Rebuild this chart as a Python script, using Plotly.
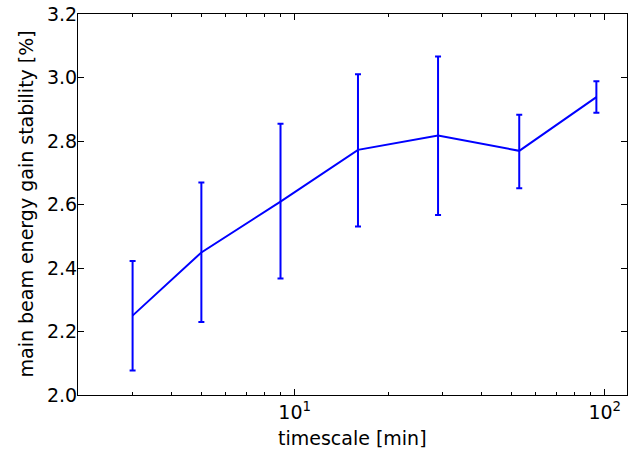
import math
import plotly.graph_objects as go

# timescale [min] and gain stability [%]
timescale = [3, 5, 9, 16, 29, 53, 94]
stability = [2.250, 2.449, 2.609, 2.772, 2.817, 2.769, 2.938]
err_upper = [2.422, 2.669, 2.854, 3.010, 3.066, 2.883, 2.988]
err_lower = [2.077, 2.230, 2.367, 2.531, 2.567, 2.651, 2.889]

major_x = [10, 100]
major_x_text = ["10<sup>1</sup>", "10<sup>2</sup>"]
minor_x = [2, 3, 4, 5, 6, 7, 8, 9, 20, 30, 40, 50, 60, 70, 80, 90]
y_ticks = [2.0, 2.2, 2.4, 2.6, 2.8, 3.0, 3.2]

plus = [u - v for u, v in zip(err_upper, stability)]
minus = [v - l for v, l in zip(stability, err_lower)]

fig = go.Figure()

fig.add_trace(go.Scatter(
    x=timescale,
    y=stability,
    mode="lines",
    line=dict(color="#0000ff", width=2),
    error_y=dict(
        type="data",
        symmetric=False,
        array=plus,
        arrayminus=minus,
        color="#0000ff",
        thickness=2,
        width=3,
    ),
    showlegend=False,
))

axis_font = dict(family="DejaVu Sans", size=19, color="black")

fig.update_xaxes(
    type="log",
    range=[math.log10(2), math.log10(118)],
    tickmode="array",
    tickvals=major_x,
    ticktext=major_x_text,
    ticks="inside",
    ticklen=6,
    tickwidth=1,
    tickcolor="black",
    minor=dict(tickmode="array", tickvals=minor_x, ticks="inside",
               ticklen=3, tickwidth=1, tickcolor="black"),
    showline=True,
    linecolor="black",
    linewidth=1,
    mirror="allticks",
    showgrid=False,
    zeroline=False,
    automargin=False,
    tickfont=axis_font,
)

fig.update_yaxes(
    range=[2.0, 3.2],
    tickmode="array",
    tickvals=y_ticks,
    ticktext=["%.1f" % v for v in y_ticks],
    ticks="inside",
    ticklen=6,
    tickwidth=1,
    tickcolor="black",
    ticklabelstandoff=-4,
    showline=True,
    linecolor="black",
    linewidth=1,
    mirror="allticks",
    showgrid=False,
    zeroline=False,
    automargin=False,
    tickfont=axis_font,
)

# axis titles placed as annotations for exact positions
fig.add_annotation(text="timescale [min]", xref="paper", yref="paper",
                   x=0.5, y=-0.113, xanchor="center", yanchor="middle",
                   showarrow=False, font=axis_font)
fig.add_annotation(text="main beam energy gain stability [%]", xref="paper", yref="paper",
                   x=-0.0965, y=0.5, xanchor="center", yanchor="middle",
                   textangle=-90, showarrow=False, font=axis_font)

fig.update_layout(
    width=633,
    height=449,
    margin=dict(l=78, r=6, t=14, b=54),
    plot_bgcolor="white",
    paper_bgcolor="white",
    font=axis_font,
)

fig.write_html("out.html", config={"displayModeBar": False},
               post_script="document.body.style.margin='0';")
